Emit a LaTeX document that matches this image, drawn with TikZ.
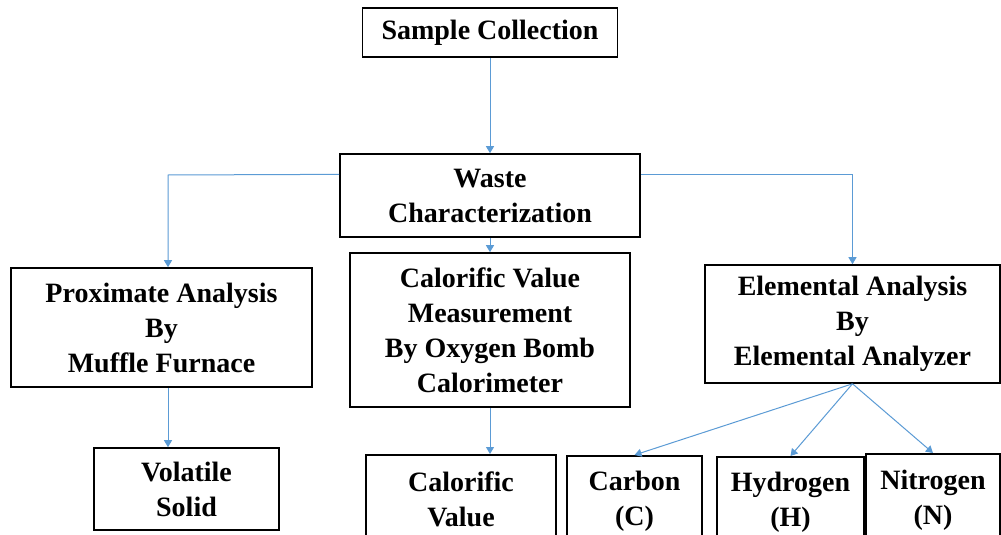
\documentclass[tikz,border=0pt]{standalone}
\usepackage{fontspec}
\setmainfont{Liberation Serif}
\usetikzlibrary{arrows.meta,calc}
\definecolor{linkBlue}{RGB}{91,155,213}

\begin{document}
\begin{tikzpicture}[x=1pt,y=-1pt,
    box/.style={draw=black,line width=1.6pt,align=center,inner sep=0pt,
                font=\bfseries\fontsize{28}{35}\selectfont},
    link/.style={linkBlue,line width=1pt,-{Triangle[width=8pt,length=7pt]}}]

    \clip (0,0) rectangle (1001,535);
    \fill[white] (0,0) rectangle (1001,535);

    % ── top ──────────────────────────────────────────────
    \node[box,minimum width=255pt,minimum height=49pt] (samp) at (490,32.5){Sample Collection};
    \node[box,minimum width=300pt,minimum height=83pt] (waste) at (490,195.5){Waste\\Characterization};

    % ── methods ──────────────────────────────────────────
    \node[box,minimum width=301pt,minimum height=119pt] (prox) at (161.5,327.5)
          {Proximate Analysis\\By\\Muffle Furnace};
    \node[box,minimum width=280pt,minimum height=154pt] (calm) at (490,330)
          {Calorific Value\\Measurement\\By Oxygen Bomb\\Calorimeter};
    \node[box,minimum width=295pt,minimum height=118pt] (elem) at (852.5,324)
          {Elemental Analysis\\By\\Elemental Analyzer};

    % ── results (cut at the lower edge) ──────────────────
    \node[box,minimum width=185pt,minimum height=82pt] (vol) at (186.5,489){Volatile\\Solid};
    \node[box,anchor=north,minimum width=190pt,minimum height=90pt] (calv) at (461,454){Calorific\\Value};
    \node[box,anchor=north,minimum width=135pt,minimum height=90pt] (carb) at (634.5,455){Carbon\\(C)};
    \node[box,anchor=north,minimum width=147pt,minimum height=90pt] (hydr) at (790.5,456){Hydrogen\\(H)};
    \node[box,anchor=north,minimum width=134pt,minimum height=92pt] (nitr) at (933,453){Nitrogen\\(N)};

    % ── connectors ───────────────────────────────────────
    \coordinate (pl) at (168,175);
    \draw[link] (samp) -- (waste);
    \draw[link] ($(waste.north west)!0.25!(waste.south west)$) -- (pl) -- (pl |- prox.north);
    \draw[link] ($(waste.north east)!0.25!(waste.south east)$) -| (elem.north);
    \draw[link] (waste) -- (calm);
    \draw[link] (pl |- prox.south) -- (pl |- vol.north);
    \draw[link] (calm.south) -- (calv.north -| calm.south);
    \foreach \t in {carb,hydr,nitr}{\draw[link] (elem.south) -- (\t.north);}

\end{tikzpicture}
\end{document}
